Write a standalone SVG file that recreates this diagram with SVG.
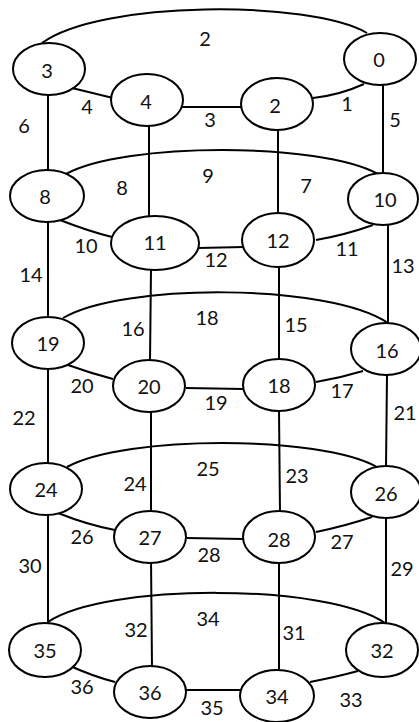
<svg xmlns="http://www.w3.org/2000/svg" width="419" height="722" viewBox="0 0 419 722">
<style>
.e{fill:none;stroke:#000;stroke-width:2}
.n ellipse{fill:#fff;stroke:#000;stroke-width:2}
text{font-family:Lato,"Liberation Sans",sans-serif;font-size:20px;fill:#111;text-anchor:middle}
</style>
<rect width="419" height="722" fill="#fff"/>
<g id="connectors">
<path class="e" d="M42,43 C100,0 310,0 367,33"/>
<path class="e" d="M72,88 L113,98"/>
<path class="e" d="M182,107 L242,107"/>
<path class="e" d="M313,98 Q340,95 364,84"/>
<path class="e" d="M383,84 L383,174"/>
<path class="e" d="M48,94 L48,172"/>
<path class="e" d="M149,125 L149,218"/>
<path class="e" d="M278,129 L278,215"/>
<path class="e" d="M66,174 C124,142 320,142 378,174"/>
<path class="e" d="M60,220 Q88,231 112,237"/>
<path class="e" d="M198,248 L244,247"/>
<path class="e" d="M316,240 Q345,235 373,225"/>
<path class="e" d="M388,224 L388,324"/>
<path class="e" d="M48,222 L48,318"/>
<path class="e" d="M151,269 L150,361"/>
<path class="e" d="M279,266 L279,360"/>
<path class="e" d="M63,318 C121,283 330,283 388,323"/>
<path class="e" d="M68,365 Q90,373 113,379"/>
<path class="e" d="M186,388 L243,389"/>
<path class="e" d="M316,382 Q340,378 363,371"/>
<path class="e" d="M48,360 L48,466"/>
<path class="e" d="M387,375 L386,467"/>
<path class="e" d="M151,411 L151,511"/>
<path class="e" d="M279,410 L280,512"/>
<path class="e" d="M67,467 C125,435 320,435 377,467"/>
<path class="e" d="M58,513 Q88,525 115,530"/>
<path class="e" d="M187,538 L243,539"/>
<path class="e" d="M316,532 Q345,526 372,517"/>
<path class="e" d="M48,514 L48,623"/>
<path class="e" d="M386,518 L386,624"/>
<path class="e" d="M151,558 L152,668"/>
<path class="e" d="M279,562 L279,670"/>
<path class="e" d="M48,622 C106,583 327,583 385,623"/>
<path class="e" d="M68,665 Q92,676 115,682"/>
<path class="e" d="M186,690 L241,690"/>
<path class="e" d="M310,682 Q336,677 358,671"/>
</g>
<g id="edge-labels">
<text x="205" y="46">2</text>
<text x="87" y="114">4</text>
<text x="210" y="127">3</text>
<text x="347" y="111">1</text>
<text x="395" y="127">5</text>
<text x="24" y="133">6</text>
<text x="208" y="183">9</text>
<text x="122" y="195">8</text>
<text x="306" y="193">7</text>
<text x="86" y="253">10</text>
<text x="216" y="267">12</text>
<text x="347" y="256">11</text>
<text x="31" y="282">14</text>
<text x="403" y="273">13</text>
<text x="133" y="336">16</text>
<text x="207" y="325">18</text>
<text x="296" y="332">15</text>
<text x="82" y="393">20</text>
<text x="216" y="410">19</text>
<text x="342" y="398">17</text>
<text x="24" y="425">22</text>
<text x="405" y="420">21</text>
<text x="135" y="491">24</text>
<text x="208" y="476">25</text>
<text x="297" y="483">23</text>
<text x="82" y="544">26</text>
<text x="209" y="562">28</text>
<text x="342" y="549">27</text>
<text x="30" y="573">30</text>
<text x="402" y="576">29</text>
<text x="208" y="626">34</text>
<text x="136" y="637">32</text>
<text x="294" y="640">31</text>
<text x="82" y="694">36</text>
<text x="212" y="715">35</text>
<text x="351" y="707">33</text>
</g>
<g id="n0" class="n"><ellipse cx="380" cy="59" rx="36" ry="26"/><text x="379" y="67">0</text></g>
<g id="n3" class="n"><ellipse cx="49" cy="69" rx="36" ry="26"/><text x="47" y="78">3</text></g>
<g id="n4" class="n"><ellipse cx="147" cy="100" rx="36" ry="26"/><text x="146" y="109">4</text></g>
<g id="n2" class="n"><ellipse cx="277" cy="104" rx="36" ry="26"/><text x="275" y="113">2</text></g>
<g id="n8" class="n"><ellipse cx="47" cy="196" rx="37" ry="26"/><text x="45" y="204">8</text></g>
<g id="n10" class="n"><ellipse cx="383" cy="199" rx="35" ry="26"/><text x="385" y="207">10</text></g>
<g id="n11" class="n"><ellipse cx="155" cy="243" rx="44" ry="27"/><text x="155" y="250">11</text></g>
<g id="n12" class="n"><ellipse cx="278" cy="240" rx="36" ry="27"/><text x="278" y="248">12</text></g>
<g id="n19" class="n"><ellipse cx="48" cy="343" rx="36" ry="26"/><text x="48" y="351">19</text></g>
<g id="n16" class="n"><ellipse cx="386" cy="349" rx="35" ry="26"/><text x="387" y="358">16</text></g>
<g id="n20" class="n"><ellipse cx="149" cy="386" rx="36" ry="26"/><text x="149" y="394">20</text></g>
<g id="n18" class="n"><ellipse cx="279" cy="385" rx="36" ry="26"/><text x="279" y="393">18</text></g>
<g id="n24" class="n"><ellipse cx="46" cy="489" rx="36" ry="26"/><text x="46" y="497">24</text></g>
<g id="n26" class="n"><ellipse cx="386" cy="492" rx="35" ry="26"/><text x="386" y="501">26</text></g>
<g id="n27" class="n"><ellipse cx="150" cy="537" rx="36" ry="26"/><text x="150" y="545">27</text></g>
<g id="n28" class="n"><ellipse cx="279" cy="537" rx="36" ry="26"/><text x="279" y="547">28</text></g>
<g id="n35" class="n"><ellipse cx="45" cy="650" rx="36" ry="27"/><text x="45" y="658">35</text></g>
<g id="n32" class="n"><ellipse cx="382" cy="650" rx="36" ry="27"/><text x="382" y="658">32</text></g>
<g id="n36" class="n"><ellipse cx="150" cy="692" rx="36" ry="26"/><text x="150" y="700">36</text></g>
<g id="n34" class="n"><ellipse cx="277" cy="696" rx="37" ry="26"/><text x="277" y="704">34</text></g>
</svg>
